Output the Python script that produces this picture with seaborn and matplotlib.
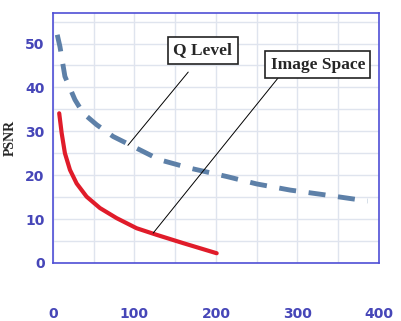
import matplotlib
matplotlib.use("Agg")
import matplotlib.pyplot as plt
from matplotlib.ticker import MultipleLocator
import seaborn as sns
import pandas as pd

# Data
q_x = [5.3, 8.6, 14.7, 27, 37.2, 53.6, 74, 94.5, 131, 168, 213, 250, 291, 334, 386]
q_y = [52, 49.3, 42.5, 37.2, 34.1, 31.5, 28.8, 26.9, 23.5, 21.6, 19.7, 18, 16.6, 15.5, 14.1]
img_x = [7.7, 10.7, 14.7, 20.9, 29.1, 41.3, 57.7, 78.2, 102.7, 127.2, 159.9, 200.9]
img_y = [34.1, 29.6, 25.0, 21.2, 18.1, 15.1, 12.5, 10.2, 7.9, 6.4, 4.5, 2.2]
x_ticks = [0, 100, 200, 300, 400]
y_ticks = [0, 10, 20, 30, 40, 50]

sns.set_style("white")
fig = plt.figure(figsize=(4.01, 3.21), dpi=100)
ax = fig.add_axes([0.132, 0.181, 0.813, 0.779])

dq = pd.DataFrame({"x": q_x, "y": q_y})
di = pd.DataFrame({"x": img_x, "y": img_y})
sns.lineplot(data=dq, x="x", y="y", ax=ax, color="#5d80a8", lw=3.5,
             linestyle=(0, (3.5, 2.6)), estimator=None, sort=False)
sns.lineplot(data=di, x="x", y="y", ax=ax, color="#e01c2a", lw=3,
             estimator=None, sort=False)

ax.set_xlim(0, 400)
ax.set_ylim(0, 57)
ax.set_xticks(x_ticks)
ax.set_yticks(y_ticks)
ax.xaxis.set_minor_locator(MultipleLocator(50))
ax.yaxis.set_minor_locator(MultipleLocator(5))
ax.grid(True, which="both", color="#dfe4ee", lw=1)
ax.set_axisbelow(True)
for s in ax.spines.values():
    s.set_color("#4f4fd6")
    s.set_linewidth(1.2)
ax.tick_params(axis="both", which="both", length=0)
ax.tick_params(axis="x", pad=32)
ax.tick_params(axis="y", pad=6)
for lbl in ax.get_xticklabels() + ax.get_yticklabels():
    lbl.set_color("#4646b8")
    lbl.set_fontweight("bold")
    lbl.set_fontsize(10)
    lbl.set_fontfamily("DejaVu Sans")
ax.set_xlabel("")
ax.set_ylabel("PSNR", fontfamily="Liberation Serif", fontweight="bold",
              fontsize=10, labelpad=6)

# leader lines
ax.plot([166, 92], [43.5, 26.8], color="black", lw=0.7)
ax.plot([276, 123], [42.1, 6.8], color="black", lw=0.7)

box = dict(boxstyle="square,pad=0.3", fc="white", ec="#222222", lw=1.2)
ax.text(184, 48.4, "Q Level", fontfamily="Liberation Serif", fontweight="bold",
        fontsize=12.5, ha="center", va="center", bbox=box)
ax.text(325, 45.2, "Image Space", fontfamily="Liberation Serif", fontweight="bold",
        fontsize=12.5, ha="center", va="center", bbox=box)

fig.savefig("out.png", dpi=100)
